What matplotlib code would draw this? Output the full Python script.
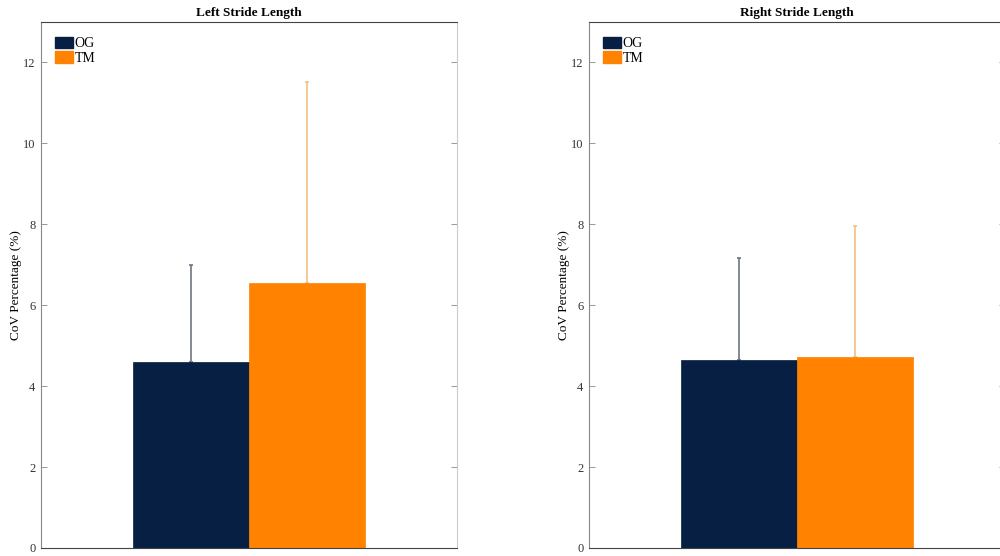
import matplotlib
matplotlib.use("Agg")
import matplotlib.pyplot as plt
from matplotlib.patches import Patch

plt.rcParams['font.family'] = ['Liberation Serif', 'DejaVu Serif']

groups = ["OG", "TM"]
titles = ["Left Stride Length", "Right Stride Length"]
left_means = [4.59, 6.54]
left_err = [2.41, 4.98]
right_means = [4.64, 4.71]
right_err = [2.52, 3.24]
yticks = [0, 2, 4, 6, 8, 10, 12]
ylabel = "CoV Percentage (%)"

bar_colors = ["#061f43", "#ff8200"]
err_colors = ["#6d7580", "#f4c080"]

fig = plt.figure(figsize=(10, 5.56), dpi=100)
positions = [[0.041, 0.0144, 0.416, 0.946], [0.589, 0.0144, 0.416, 0.946]]
data = [(left_means, left_err), (right_means, right_err)]

for pos, title, (means, errs) in zip(positions, titles, data):
    ax = fig.add_axes(pos)
    xs = [1, 2]
    for x, m, e, c, ec in zip(xs, means, errs, bar_colors, err_colors):
        ax.bar(x, m, width=1.0, color=c, edgecolor=c, linewidth=0.5, zorder=2)
        ax.errorbar(x, m, yerr=[[0], [e]], fmt='none', ecolor=ec,
                    elinewidth=1.2, capsize=1.5, capthick=1.2, zorder=1)
    ax.set_xlim(-0.293, 3.293)
    ax.set_ylim(0, 13)
    ax.set_yticks(yticks)
    ax.set_yticklabels([str(t) for t in yticks], fontsize=9, color="#333333")
    ax.set_xticks([])
    ax.tick_params(axis='y', direction='in', length=4, width=0.6, color="#888888",
                   right=True, pad=4)
    ax.set_title(title, fontsize=9.5, fontweight='bold', pad=4)
    ax.set_ylabel(ylabel, fontsize=9.5)
    ax.yaxis.set_label_coords(-0.046, 0.5)
    ax.spines['top'].set_color('#444444')
    ax.spines['bottom'].set_color('#444444')
    ax.spines['left'].set_color('#888888')
    ax.spines['right'].set_color('#cccccc')
    for s in ax.spines.values():
        s.set_linewidth(0.8)
    handles = [Patch(facecolor=bar_colors[0], edgecolor=bar_colors[0]),
               Patch(facecolor=bar_colors[1], edgecolor=bar_colors[1])]
    ax.legend(handles, groups, loc='upper left', bbox_to_anchor=(0.024, 0.98),
              frameon=False, fontsize=10,
              handlelength=1.3, handleheight=0.85, handletextpad=0.1,
              labelspacing=0.1, borderaxespad=0.0, borderpad=0.3)

fig.savefig("out.png", dpi=100)
